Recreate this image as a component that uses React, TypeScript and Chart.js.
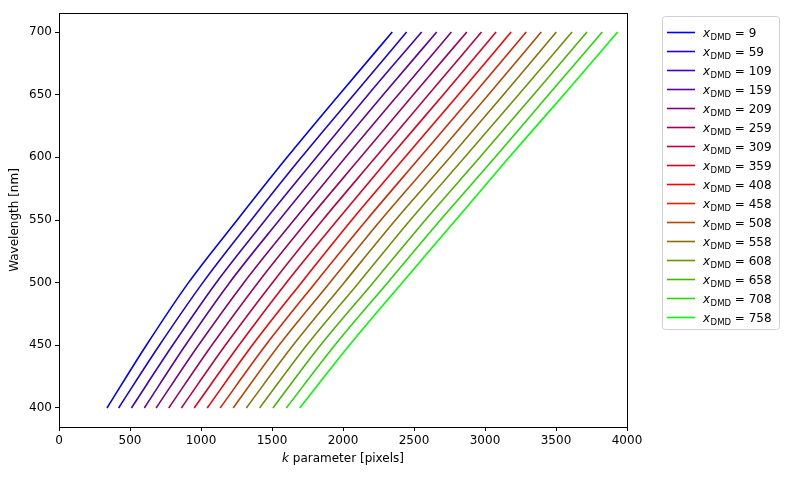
import React, { useEffect, useRef } from "react";
import { Chart, registerables } from "chart.js";

Chart.register(...registerables);

const xDmd = [9, 59, 109, 159, 209, 259, 309, 359, 408, 458, 508, 558, 608, 658, 708, 758];
const wavelengths = [400, 450, 500, 550, 600, 650, 700];

// k parameter (pixels) read per wavelength row, one value per x_DMD line
const k400 = [338, 420, 510, 601, 684, 773, 862, 952, 1044, 1135, 1227, 1319, 1413, 1507, 1601, 1695];
const k450 = [615, 707, 800, 890, 982, 1076, 1171, 1267, 1361, 1455, 1549, 1648, 1744, 1841, 1942, 2045];
const k500 = [912, 1013, 1107, 1201, 1302, 1401, 1503, 1601, 1707, 1806, 1907, 2008, 2111, 2212, 2314, 2417];
const k550 = [1255, 1354, 1453, 1552, 1655, 1754, 1857, 1961, 2062, 2166, 2267, 2370, 2474, 2580, 2686, 2794];
const k600 = [1606, 1707, 1813, 1914, 2018, 2124, 2229, 2330, 2436, 2542, 2648, 2754, 2857, 2964, 3071, 3170];
const k650 = [1973, 2076, 2177, 2283, 2389, 2495, 2601, 2706, 2812, 2918, 3024, 3130, 3236, 3342, 3447, 3555];
const k700 = [2347, 2448, 2554, 2660, 2763, 2872, 2975, 3078, 3184, 3290, 3396, 3502, 3613, 3718, 3826, 3934];

const lineColors = [
  "#0000ff", "#2000df", "#4000bf", "#60009f", "#80007f", "#9f0060", "#bf0040", "#df0020",
  "#ff0000", "#db2400", "#b64900", "#926d00", "#6d9200", "#49b600", "#24db00", "#00ff00",
];

const xTicks = [0, 500, 1000, 1500, 2000, 2500, 3000, 3500, 4000];
const yTicks = [400, 450, 500, 550, 600, 650, 700];

const FONT = "'DejaVu Sans', sans-serif";

const kRows = [k400, k450, k500, k550, k600, k650, k700];

const decorPlugin = {
  id: "decor",
  afterDraw(chart: any) {
    const ctx = chart.ctx as CanvasRenderingContext2D;
    const a = chart.chartArea;
    ctx.save();
    // frame
    ctx.strokeStyle = "#000";
    ctx.lineWidth = 1;
    ctx.strokeRect(Math.round(a.left) + 0.5, Math.round(a.top) + 0.5, Math.round(a.right - a.left), Math.round(a.bottom - a.top));

    // y title
    ctx.fillStyle = "#000";
    ctx.font = `12px ${FONT}`;
    ctx.textAlign = "center";
    ctx.textBaseline = "middle";
    ctx.save();
    ctx.translate(15, (a.top + a.bottom) / 2);
    ctx.rotate(-Math.PI / 2);
    ctx.fillText("Wavelength [nm]", 0, 0);
    ctx.restore();

    // x title with italic k
    ctx.textAlign = "left";
    ctx.textBaseline = "middle";
    ctx.font = `italic 12px ${FONT}`;
    const wk = ctx.measureText("k").width;
    ctx.font = `12px ${FONT}`;
    const rest = " parameter [pixels]";
    const wr = ctx.measureText(rest).width;
    const cx = (a.left + a.right) / 2;
    const x0 = cx - (wk + wr) / 2;
    const ty = 459;
    ctx.font = `italic 12px ${FONT}`;
    ctx.fillText("k", x0, ty);
    ctx.font = `12px ${FONT}`;
    ctx.fillText(rest, x0 + wk, ty);

    // legend
    const lx = 662, ly = 16, lw = 117, lh = 313;
    ctx.beginPath();
    (ctx as any).roundRect(lx + 0.5, ly + 0.5, lw, lh, 3);
    ctx.fillStyle = "rgba(255,255,255,0.8)";
    ctx.fill();
    ctx.strokeStyle = "#d0d0d0";
    ctx.lineWidth = 1;
    ctx.stroke();
    xDmd.forEach((v, i) => {
      const y = 32.5 + i * 19;
      ctx.beginPath();
      ctx.moveTo(667, y);
      ctx.lineTo(695, y);
      ctx.strokeStyle = lineColors[i];
      ctx.lineWidth = 1.6;
      ctx.stroke();
      ctx.fillStyle = "#000";
      ctx.textBaseline = "alphabetic";
      const base = y + 4.5;
      let tx = 703;
      ctx.font = `italic 12px ${FONT}`;
      ctx.fillText("x", tx, base);
      tx += ctx.measureText("x").width + 0.5;
      ctx.font = `8.5px ${FONT}`;
      ctx.fillText("DMD", tx, base + 2.5);
      tx += ctx.measureText("DMD").width;
      ctx.font = `12px ${FONT}`;
      ctx.fillText(` = ${v}`, tx, base);
    });
    ctx.restore();
  },
};

export default function App() {
  const ref = useRef<HTMLCanvasElement | null>(null);
  useEffect(() => {
    if (!ref.current) return;
    const datasets = xDmd.map((v, i) => ({
      label: `x_DMD = ${v}`,
      data: wavelengths.map((w, j) => ({ x: kRows[j][i], y: w })),
      borderColor: lineColors[i],
      backgroundColor: lineColors[i],
      borderWidth: 1.6,
      pointRadius: 0,
      fill: false,
      cubicInterpolationMode: "monotone" as const,
    }));
    const tickFont = { family: FONT, size: 12 };
    const chart = new Chart(ref.current, {
      type: "line",
      data: { datasets },
      plugins: [decorPlugin],
      options: {
        animation: false,
        responsive: true,
        maintainAspectRatio: false,
        layout: { padding: { left: 0, top: 13, right: 162, bottom: 0 } },
        plugins: { legend: { display: false }, tooltip: { enabled: false } },
        scales: {
          x: {
            type: "linear",
            min: 0,
            max: 4000,
            afterBuildTicks: (s: any) => {
              s.ticks = xTicks.map((v) => ({ value: v }));
            },
            afterFit: (s: any) => {
              s.height = 50;
            },
            ticks: {
              font: tickFont,
              color: "#000",
              padding: 3,
              maxRotation: 0,
              autoSkip: false,
              callback: (v: any) => String(v),
            },
            grid: { drawOnChartArea: false, drawTicks: true, tickLength: 4, color: "#000" },
            border: { color: "#000", width: 1 },
          },
          y: {
            type: "linear",
            min: 384.8,
            max: 715.2,
            afterBuildTicks: (s: any) => {
              s.ticks = yTicks.map((v) => ({ value: v }));
            },
            afterFit: (s: any) => {
              s.width = 59;
            },
            ticks: {
              font: tickFont,
              color: "#000",
              padding: 3,
              autoSkip: false,
              callback: (v: any) => String(v),
            },
            grid: { drawOnChartArea: false, drawTicks: true, tickLength: 4, color: "#000" },
            border: { color: "#000", width: 1 },
          },
        },
      },
    });
    return () => chart.destroy();
  }, []);
  return (
    <div style={{ position: "fixed", left: 0, top: 0, width: 789, height: 477, background: "#fff" }}>
      <canvas ref={ref} />
    </div>
  );
}
